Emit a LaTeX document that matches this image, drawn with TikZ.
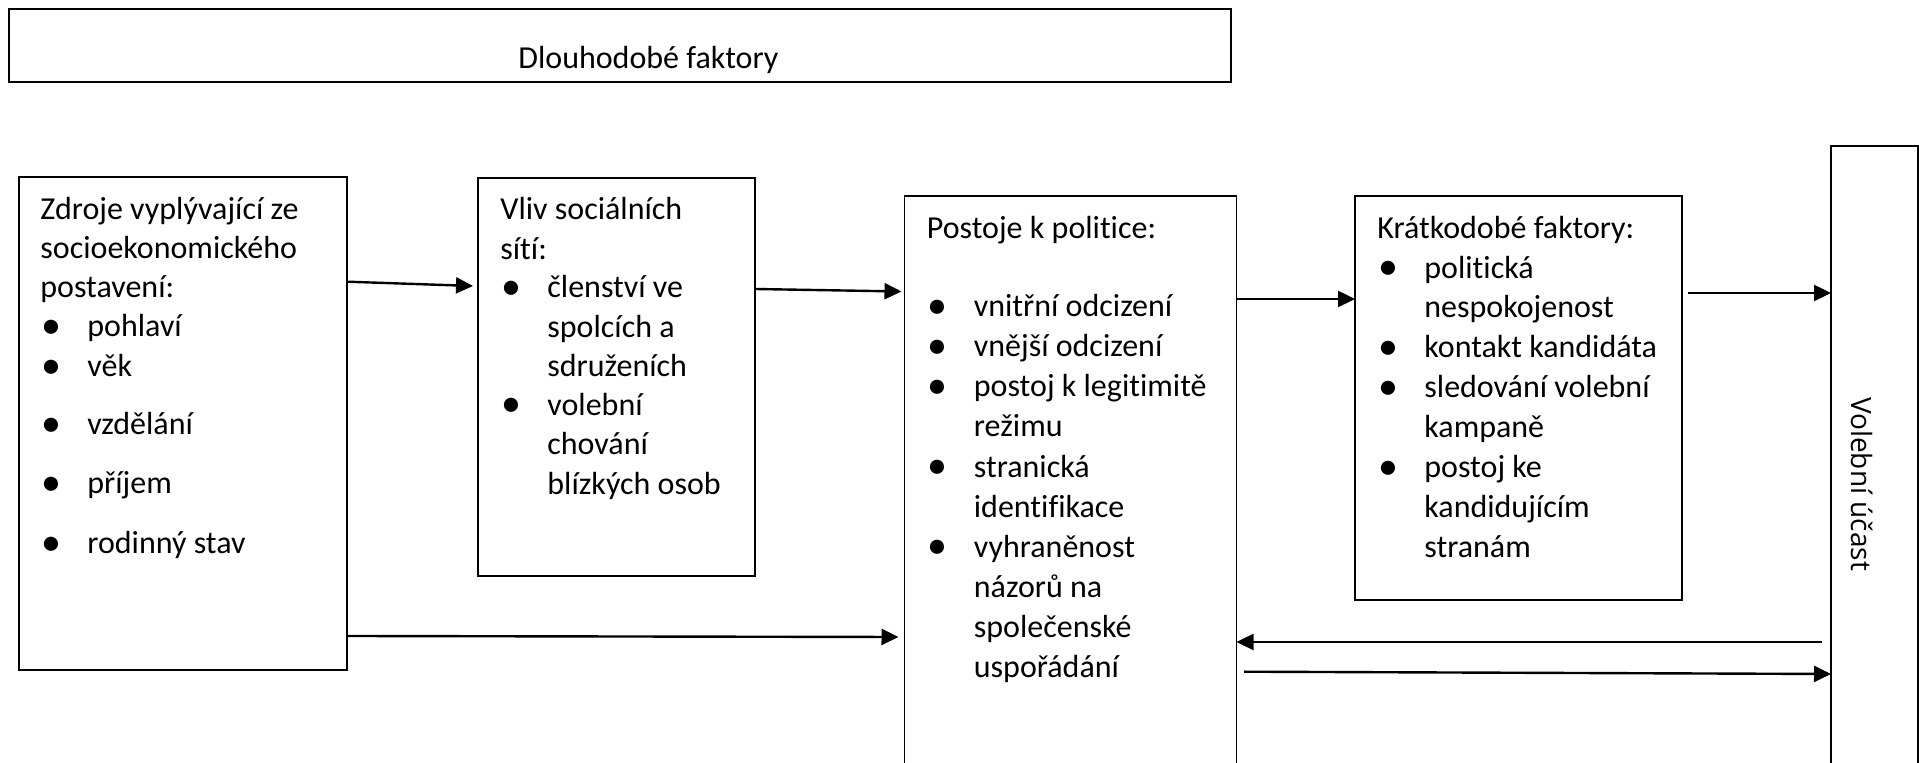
\documentclass[tikz,border=0pt]{standalone}
\usepackage{fontspec}
\usepackage{graphicx}
\setmainfont{Carlito}[Ligatures=NoCommon]
\newfontfamily\vfont{Open Sans}
\usetikzlibrary{arrows.meta,calc}
\newcommand\mybul{\hspace*{0.5pt}\makebox[23pt][l]{\raisebox{-0.6pt}{\scalebox{1.25}{\textbullet}}}}
\newcommand\myind{\hspace*{23.5pt}}
\begin{document}
\begin{tikzpicture}[x=0.5pt,y=-0.5pt,
  box/.style={draw,line width=0.9pt,inner sep=0pt,outer sep=0pt},
  txt/.style={inner sep=0pt,anchor=base west,font=\fontsize{16}{19.75}\selectfont},
  arr/.style={line width=1.2pt,-{Triangle[length=8.5pt,width=8pt]}}]
\fill[white] (0,0) rectangle (1919,763);
\useasboundingbox (0,0) rectangle (1919,763);
\clip (0,0) rectangle (1919,763);
% boxes
\node[box,line width=1.1pt,minimum width=611pt,minimum height=36.5pt] (b0) at (620,45.5) {};
\node[box,minimum width=164pt,minimum height=246.5pt] (b1) at (183,423.5) {};
\node[box,minimum width=138.5pt,minimum height=199pt] (b2) at (616.5,377) {};
\node[box,minimum width=166pt,minimum height=312pt] (b3) at (1070.5,508) {};
\node[box,minimum width=163.5pt,minimum height=202pt] (b4) at (1518.5,398) {};
\node[box,minimum width=43.5pt,minimum height=337pt] (b5) at (1874.5,483) {};
% texts
\node[txt] (t0) at (518,69) {Dlouhodobé faktory};
\foreach \yy/\lbl [count=\i] in {220/{Zdroje vyplývající ze},259/{socioekonomického},298/{postavení:},
  337/{\mybul pohlaví},377/{\mybul věk},435/{\mybul vzdělání},494/{\mybul příjem},554/{\mybul rodinný stav}}
  \node[txt] (za\i) at (40,\yy) {\lbl};
\foreach \yy/\lbl [count=\i] in {220/{Vliv sociálních},259.5/{sítí:},298/{\mybul členství ve},
  337.5/{\myind spolcích a},376.5/{\myind sdruženích},415.5/{\mybul volební},455/{\myind chování},495/{\myind blízkých osob}}
  \node[txt] (zb\i) at (500,\yy) {\lbl};
\foreach \yy/\lbl [count=\i] in {238.5/{Postoje k politice:},317/{\mybul vnitřní odcizení},357/{\mybul vnější odcizení},
  397/{\mybul postoj k legitimitě},437/{\myind režimu},477.5/{\mybul stranická},517.5/{\myind identifikace},
  557.5/{\mybul vyhraněnost},597.5/{\myind názorů na},637.5/{\myind společenské},677.5/{\myind uspořádání}}
  \node[txt] (zc\i) at (926.5,\yy) {\lbl};
\foreach \yy/\lbl [count=\i] in {238.5/{Krátkodobé faktory:},278.5/{\mybul politická},318/{\myind nespokojenost},
  358/{\mybul kontakt kandidáta},398/{\mybul sledování volební},438/{\myind kampaně},478/{\mybul postoj ke},
  518/{\myind kandidujícím},557.5/{\myind stranám}}
  \node[txt] (zd\i) at (1377,\yy) {\lbl};
\node[inner sep=0pt,rotate=-90,font=\vfont\fontsize{14}{17}\selectfont] (v) at (1862,484) {Volební účast};
% connectors
\draw[arr] (b1.east |- 0,281.7) -- ($(b2.west |- 0,286)+(-5,0)$);
\draw[arr] (b2.east |- 0,289) -- ($(b3.west |- 0,291.5)+(-3,0)$);
\draw[arr] (b1.east |- 0,636) -- ($(b3.west |- 0,637)+(-6,0)$);
\draw[arr] (b3.east |- 0,299) -- (b4.west |- 0,299);
\coordinate (s5) at ($(b4.east |- 0,293)+(6,0)$);
\draw[arr] (s5) -- (b5.west |- 0,293);
\coordinate (s6) at ($(b5.west |- 0,642)+(-9,0)$);
\draw[arr] (s6) -- (b3.east |- 0,642);
\coordinate (s7) at ($(b3.east |- 0,671.7)+(7.5,0)$);
\draw[arr] (s7) -- (b5.west |- 0,674);
\end{tikzpicture}
\end{document}
